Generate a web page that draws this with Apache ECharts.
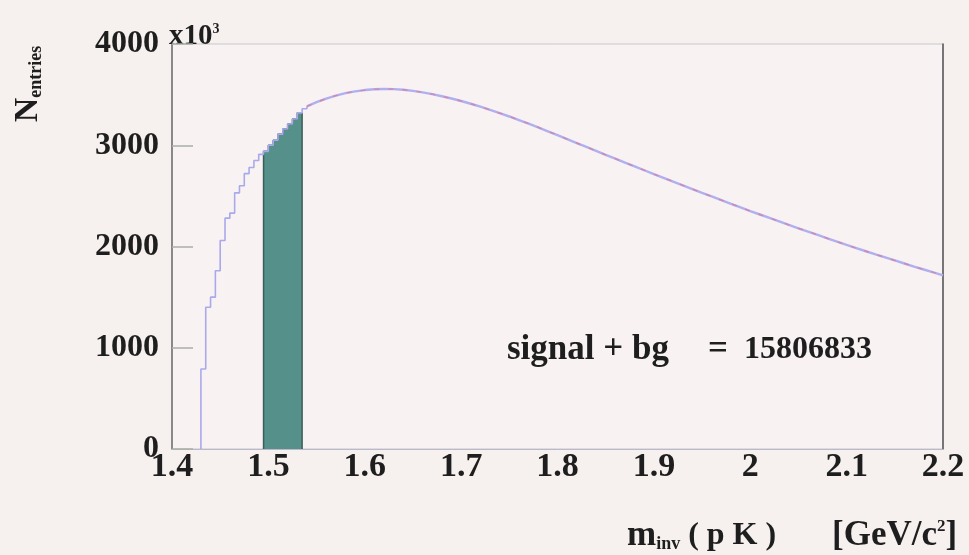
<!DOCTYPE html>
<html>
<head>
<meta charset="utf-8">
<script src="https://cdn.jsdelivr.net/npm/echarts@6/dist/echarts.min.js"></script>
<style>
  html, body { margin: 0; padding: 0; background: #f6f1ef; }
  #chart { width: 969px; height: 555px; }
</style>
</head>
<body>
<div id="chart"></div>
<script>
// Invariant-mass histogram of p K pairs (counts in units of 10^3)

// Threshold region: fine bins (lower edges, GeV/c^2) and their contents
const binEdges = [1.430, 1.435, 1.440, 1.445, 1.450, 1.455, 1.460, 1.465, 1.470, 1.475, 1.480,
                  1.485, 1.490, 1.495, 1.500, 1.505, 1.510, 1.515, 1.520, 1.525, 1.530, 1.535];
const binCounts = [790, 1400, 1500, 1760, 2060, 2280, 2330, 2530, 2600, 2720, 2780,
                   2850, 2910, 2940, 3000, 3050, 3110, 3160, 3210, 3260, 3320, 3360];
const binWidth = 0.005;

// Signal window (shaded)
const windowLow = 1.495;
const windowHigh = 1.535;

// Continuum above 1.54 GeV/c^2
const tailMass = [1.54, 1.55, 1.56, 1.57, 1.58, 1.59, 1.60, 1.61, 1.62, 1.63, 1.64, 1.65, 1.66, 1.67,
                  1.68, 1.69, 1.70, 1.71, 1.72, 1.73, 1.74, 1.75, 1.76, 1.77, 1.78, 1.79, 1.80,
                  1.81, 1.82, 1.83, 1.84, 1.85, 1.86, 1.87, 1.88, 1.89, 1.90, 1.91, 1.92, 1.93,
                  1.94, 1.95, 1.96, 1.97, 1.98, 1.99, 2.00, 2.01, 2.02, 2.03, 2.04, 2.05, 2.06,
                  2.07, 2.08, 2.09, 2.10, 2.11, 2.12, 2.13, 2.14, 2.15, 2.16, 2.17, 2.18, 2.19, 2.20];
const tailCounts = [3385, 3425, 3460, 3490, 3515, 3532, 3545, 3553, 3556, 3554, 3548, 3537, 3522, 3505,
                    3484, 3462, 3437, 3410, 3381, 3350, 3318, 3284, 3249, 3213, 3176, 3138, 3100,
                    3061, 3022, 2983, 2944, 2905, 2867, 2829, 2791, 2753, 2715, 2678, 2641, 2604,
                    2567, 2530, 2494, 2458, 2422, 2386, 2350, 2316, 2282, 2248, 2214, 2180, 2147,
                    2114, 2081, 2048, 2015, 1984, 1953, 1922, 1892, 1862, 1832, 1802, 1773, 1744, 1715];

// Axis ticks
const xTicks = [1.4, 1.5, 1.6, 1.7, 1.8, 1.9, 2.0, 2.1, 2.2];
const yTicks = [0, 1000, 2000, 3000, 4000];

const SERIF = '"Liberation Serif", "DejaVu Serif", serif';
const INK = '#1e1e1e';

// step-histogram points: [lowEdge, count], closed at the upper edge
const risingPts = [[binEdges[0], 0]];
binEdges.forEach((e, i) => risingPts.push([e, binCounts[i]]));
risingPts.push([binEdges[binEdges.length - 1] + binWidth, tailCounts[0]]);

const windowPts = [[windowLow, 0]];
binEdges.forEach((e, i) => {
  if (e >= windowLow - 1e-9 && e < windowHigh - 1e-9) windowPts.push([e, binCounts[i]]);
});
windowPts.push([windowHigh, windowPts[windowPts.length - 1][1]]);
windowPts.push([windowHigh, 0]);

const tailPts = tailMass.map((m, i) => [m, tailCounts[i]]);

const chart = echarts.init(document.getElementById('chart'));
chart.setOption({
  backgroundColor: '#f6f1ef',
  animation: false,
  grid: {
    left: 172, right: 26, top: 44, bottom: 106,
    show: true, borderColor: '#c9c6c8', borderWidth: 1, backgroundColor: '#f8f2f2'
  },
  xAxis: {
    type: 'value', min: xTicks[0], max: xTicks[xTicks.length - 1], interval: 0.1,
    axisLine: { show: true, onZero: false, lineStyle: { color: '#b9b8cc', width: 1 } },
    axisTick: { show: false },
    splitLine: { show: false },
    axisLabel: {
      color: INK, fontFamily: SERIF, fontWeight: 'bold', fontSize: 34, margin: 1,
      formatter: v => String(Math.round(v * 10) / 10)
    }
  },
  yAxis: [{
    type: 'value', min: yTicks[0], max: yTicks[yTicks.length - 1], interval: 1000,
    axisLine: { show: true, lineStyle: { color: '#6d6d6d', width: 1.5 } },
    axisTick: { show: true, inside: true, length: 21, lineStyle: { color: '#a9b0a8', width: 1.5 } },
    splitLine: { show: false },
    axisLabel: {
      color: INK, fontFamily: SERIF, fontWeight: 'bold', fontSize: 32, margin: 13,
      formatter: v => String(v)
    }
  }, {
    type: 'value', position: 'right', min: 0, max: 4000, interval: 1000,
    axisLine: { show: true, lineStyle: { color: '#555', width: 1.5 } },
    axisTick: { show: false }, axisLabel: { show: false }, splitLine: { show: false }
  }],
  series: [
    {
      type: 'line', step: 'end', data: windowPts, symbol: 'none', z: 2,
      lineStyle: { color: '#3d5e58', width: 1.5 },
      areaStyle: { color: '#55908a', opacity: 1 }
    },
    {
      type: 'line', step: 'end', data: risingPts, symbol: 'none', z: 3,
      lineStyle: { color: '#a9a9ec', width: 1.6 }
    },
    {
      type: 'line', data: tailPts, symbol: 'none', z: 3,
      lineStyle: { color: '#b0b0f0', width: 2.4 }
    },
    {
      type: 'line', data: tailPts, symbol: 'none', z: 4,
      lineStyle: { color: '#e07892', width: 1.4, type: [5, 9], opacity: 0.7 }
    }
  ],
  graphic: [
    {
      type: 'text', left: 169, top: 22,
      style: {
        text: '{b|x10}{s|3}',
        rich: {
          b: { fontFamily: SERIF, fontWeight: 'bold', fontSize: 29, fill: INK, lineHeight: 29 },
          s: { fontFamily: SERIF, fontWeight: 'bold', fontSize: 14, fill: INK, lineHeight: 29, verticalAlign: 'top' }
        }
      }
    },
    {
      type: 'text', x: 28, y: 84, rotation: Math.PI / 2,
      style: {
        text: '{n|N}{s|entries}', align: 'center', verticalAlign: 'middle',
        rich: {
          n: { fontFamily: SERIF, fontWeight: 'bold', fontSize: 34, fill: INK, lineHeight: 34 },
          s: { fontFamily: SERIF, fontWeight: 'bold', fontSize: 18, fill: INK, lineHeight: 26, verticalAlign: 'bottom' }
        }
      }
    },
    {
      type: 'text', left: 627, top: 518,
      style: {
        text: '{m|m}{s|inv}{k| ( p K )}',
        rich: {
          m: { fontFamily: SERIF, fontWeight: 'bold', fontSize: 35, fill: INK, lineHeight: 36 },
          k: { fontFamily: SERIF, fontWeight: 'bold', fontSize: 32, fill: INK, lineHeight: 36 },
          s: { fontFamily: SERIF, fontWeight: 'bold', fontSize: 18, fill: INK, lineHeight: 30, verticalAlign: 'bottom' }
        }
      }
    },
    {
      type: 'text', left: 832, top: 518,
      style: {
        text: '{m|[GeV/c}{p|2}{m|]}',
        rich: {
          m: { fontFamily: SERIF, fontWeight: 'bold', fontSize: 35, fill: INK, lineHeight: 36 },
          p: { fontFamily: SERIF, fontWeight: 'bold', fontSize: 17, fill: INK, lineHeight: 32, verticalAlign: 'top' }
        }
      }
    },
    {
      type: 'text', left: 507, top: 332,
      style: {
        text: 'signal + bg', fontFamily: SERIF, fontWeight: 'bold', fontSize: 35, fill: INK
      }
    },
    {
      type: 'text', left: 708, top: 332,
      style: {
        text: '=', fontFamily: SERIF, fontWeight: 'bold', fontSize: 35, fill: INK
      }
    },
    {
      type: 'text', left: 744, top: 334,
      style: {
        text: '15806833', fontFamily: SERIF, fontWeight: 'bold', fontSize: 32, fill: INK
      }
    }
  ]
});
</script>
</body>
</html>
